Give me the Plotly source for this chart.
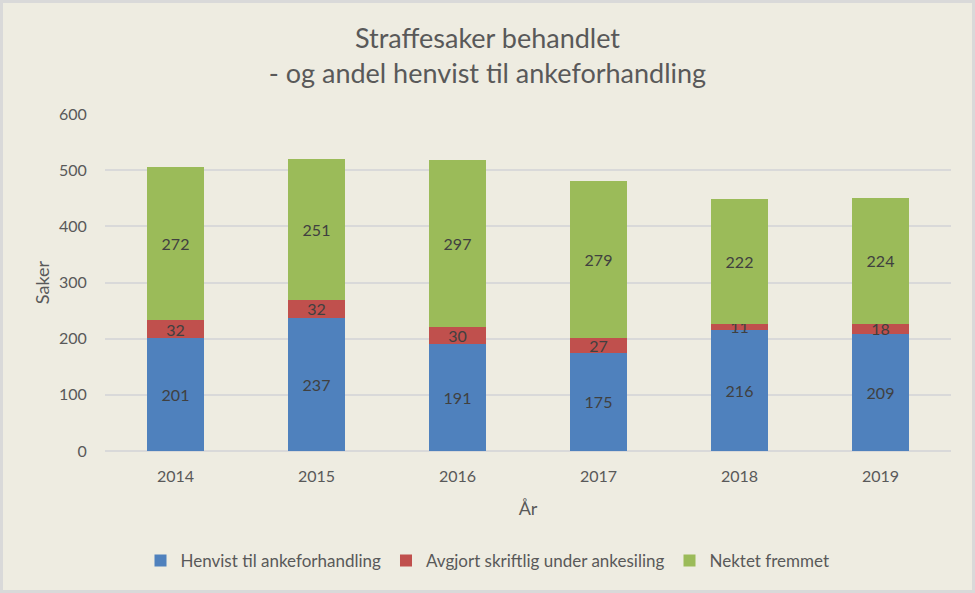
import plotly.graph_objects as go

years = ["2014", "2015", "2016", "2017", "2018", "2019"]
henvist = [201, 237, 191, 175, 216, 209]
avgjort = [32, 32, 30, 27, 11, 18]
nektet = [272, 251, 297, 279, 222, 224]

series_names = ["Henvist til ankeforhandling", "Avgjort skriftlig under ankesiling", "Nektet fremmet"]
colors = ["#4F81BD", "#C0504D", "#9BBB59"]

FONT = "Lato"
TXT = "#595959"

fig = go.Figure()
for name, vals, col in zip(series_names, [henvist, avgjort, nektet], colors):
    fig.add_trace(go.Bar(
        x=years, y=vals, name=name, marker_color=col, marker_line_width=0,
        text=[str(v) for v in vals], textposition="inside", insidetextanchor="middle",
        textangle=0,
        textfont=dict(family=FONT, size=16, color="#404040"),
        constraintext="none",
    ))

W, H = 975, 593
ml, mr, mt, mb = 105, 24, 114, 142
pw, ph = W - ml - mr, H - mt - mb

fig.update_layout(
    width=W, height=H, barmode="stack", bargap=0.6,
    margin=dict(l=ml, r=mr, t=mt, b=mb, autoexpand=False),
    paper_bgcolor="#EEECE1", plot_bgcolor="#EEECE1",
    font=dict(family=FONT, color=TXT, size=16),
    uniformtext=dict(minsize=16, mode="show"),
    title=dict(text="Straffesaker behandlet<br>- og andel henvist til ankeforhandling",
               x=0.5, xref="container", xanchor="center",
               y=1 - 48 / H, yref="container", yanchor="top",
               font=dict(family=FONT, size=27, color=TXT)),
    legend=dict(orientation="h", x=0.5, xref="container", xanchor="center",
                y=1 - 561 / H, yref="container", yanchor="middle",
                font=dict(family=FONT, size=17, color=TXT),
                itemwidth=30, traceorder="normal", bgcolor="rgba(0,0,0,0)"),
    showlegend=True,
)
fig.update_yaxes(range=[0, 600], dtick=100, showgrid=True, gridcolor="#D9D9D9", gridwidth=1.5,
                 zeroline=True, zerolinecolor="#D9D9D9", zerolinewidth=1.5,
                 ticks="outside", ticklen=14, tickcolor="rgba(0,0,0,0)",
                 tickfont=dict(family=FONT, size=16, color=TXT),
                 title=dict(text="Saker", standoff=4, font=dict(family=FONT, size=18, color=TXT)),
                 showline=False, automargin=False)
fig.update_xaxes(showgrid=False, ticks="outside", ticklen=11, tickcolor="rgba(0,0,0,0)",
                 tickfont=dict(family=FONT, size=16, color=TXT),
                 title=dict(text="År", standoff=18, font=dict(family=FONT, size=18, color=TXT)),
                 showline=False, automargin=False)

# outer chart border
fig.add_shape(type="rect", xref="paper", yref="paper",
              x0=(1.5 - ml) / pw, x1=1 + (mr - 1.5) / pw,
              y0=-(mb - 1.5) / ph, y1=1 + (mt - 1.5) / ph,
              line=dict(color="#D9D9D9", width=3), fillcolor="rgba(0,0,0,0)", layer="above")

fig.write_html("out.html", config={"displayModeBar": False},
               post_script="document.body.style.margin='0';document.body.style.overflow='hidden';")
